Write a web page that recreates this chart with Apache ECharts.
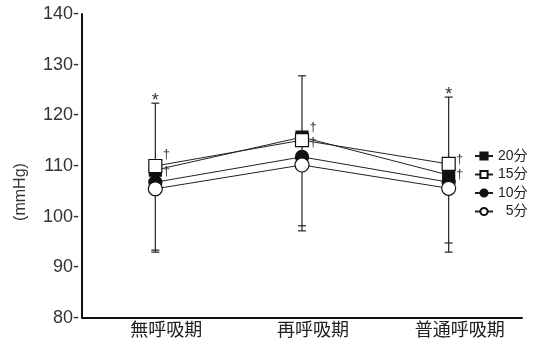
<!DOCTYPE html>
<html><head><meta charset="utf-8">
<script src="https://cdn.jsdelivr.net/npm/echarts@6/dist/echarts.min.js"></script>
<style>html,body{margin:0;padding:0;background:#fff}#c{width:533px;height:343px}</style>
</head><body><div id="c"></div>
<script>
const categories = ['無呼吸期', '再呼吸期', '普通呼吸期'];
const s20 = [109.2, 115.7, 108.2];
const s15 = [110.0, 115.1, 110.4];
const s10 = [106.8, 111.8, 106.8];
const s5  = [105.5, 110.2, 105.6];
const errHigh = [122.4, 127.8, 123.6];
const errLowA = [93.4, 98.2, 94.8];
const errLowB = [93.0, 97.2, 93.0];
const asterisks = [[0, 122.4], [2, 123.6]];
const daggers = [[0, 112.2], [0, 108.9], [1, 117.7], [1, 114.7], [2, 111.2], [2, 108.4]];
const yTicks = [80, 140, 10];

const font = 'Liberation Sans, Arial, Noto Sans CJK JP, sans-serif';
const chart = echarts.init(document.getElementById('c'), null, {renderer: 'canvas'});

function lineSeries(name, data, symbol, fill, size) {
  return {
    name, type: 'line', data, symbol, symbolSize: size,
    lineStyle: {color: '#222', width: 1},
    itemStyle: {color: fill, borderColor: '#111', borderWidth: 1.2},
    emphasis: {disabled: true}, animation: false, z: 3
  };
}

const option = {
  animation: false,
  grid: {left: 82, right: 11, top: 14, bottom: 25, containLabel: false},
  graphic: [{
    type: 'text', x: 21, y: 192, rotation: Math.PI / 2,
    style: {text: '(mmHg)', fill: '#333', font: '16px ' + font,
      textAlign: 'center', textVerticalAlign: 'middle'}
  }],
  xAxis: {
    type: 'category', data: categories, boundaryGap: true,
    axisLine: {lineStyle: {color: '#111', width: 2}},
    axisTick: {show: false},
    axisLabel: {color: '#222', fontSize: 18, fontFamily: font, margin: 4,
      padding: [0, 0, 0, 22]}
  },
  yAxis: {
    type: 'value', min: yTicks[0], max: yTicks[1], interval: yTicks[2],
    axisLine: {show: true, lineStyle: {color: '#111', width: 2}},
    axisTick: {show: false},
    splitLine: {show: false},
    axisLabel: {color: '#333', fontSize: 18, fontFamily: font, margin: 3,
      formatter: v => v + '-'}
  },
  legend: {
    orient: 'vertical', left: 469, top: 144, itemWidth: 18, itemHeight: 9, itemGap: 4.5,
    data: ['20分', '15分', '10分', '5分'],
    textStyle: {color: '#222', fontSize: 14, fontFamily: font},
    formatter: n => n === '5分' ? '  5分' : n,
    selectedMode: false
  },
  series: [
    {
      type: 'custom', name: 'err', silent: true, z: 1,
      data: categories.map((c, i) => [i, errHigh[i], errLowA[i], errLowB[i]]),
      renderItem: (params, api) => {
        const x = api.coord([api.value(0), 0])[0];
        const yh = api.coord([api.value(0), api.value(1)])[1];
        const ya = api.coord([api.value(0), api.value(2)])[1];
        const yb = api.coord([api.value(0), api.value(3)])[1];
        const w = 4;
        const st = {stroke: '#222', lineWidth: 1.2};
        return {type: 'group', children: [
          {type: 'line', shape: {x1: x, y1: yh, x2: x, y2: yb}, style: st},
          {type: 'line', shape: {x1: x - w, y1: yh, x2: x + w, y2: yh}, style: st},
          {type: 'line', shape: {x1: x - w, y1: ya, x2: x + w, y2: ya}, style: st},
          {type: 'line', shape: {x1: x - w, y1: yb, x2: x + w, y2: yb}, style: st}
        ]};
      }
    },
    lineSeries('20分', s20, 'rect', '#111', 12),
    lineSeries('15分', s15, 'rect', '#fff', 13),
    lineSeries('10分', s10, 'circle', '#111', 13),
    lineSeries('5分', s5, 'circle', '#fff', 14),
    {
      type: 'custom', name: 'ast', silent: true, z: 5,
      data: asterisks,
      renderItem: (params, api) => {
        const p = api.coord([api.value(0), api.value(1)]);
        return {type: 'text', style: {x: p[0], y: p[1] - 2, text: '*', fill: '#333',
          font: '18px ' + font, textAlign: 'center', textVerticalAlign: 'middle'}};
      }
    },
    {
      type: 'custom', name: 'dag', silent: true, z: 5,
      data: daggers,
      renderItem: (params, api) => {
        const p = api.coord([api.value(0), api.value(1)]);
        return {type: 'text', style: {x: p[0] + 11, y: p[1], text: '†', fill: '#333',
          font: '13px ' + font, textAlign: 'center', textVerticalAlign: 'middle'}};
      }
    }
  ]
};
chart.setOption(option);
</script></body></html>
